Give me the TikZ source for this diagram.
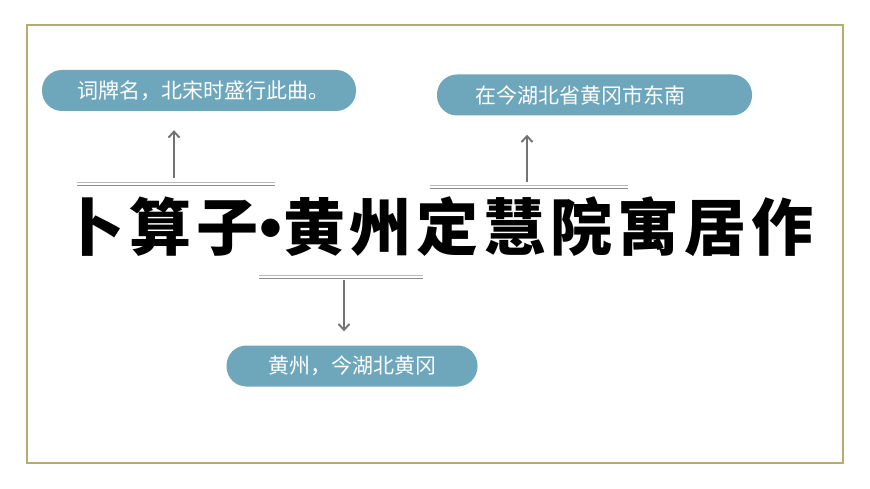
\documentclass[tikz,border=0pt]{standalone}
\usepackage{fontspec}
\setmainfont{Noto Sans CJK SC}
\newfontfamily\cjk{Noto Sans CJK SC}
\newfontfamily\cjktitle{Noto Sans CJK SC}[LetterSpace=8,BoldFont={Noto Sans CJK SC Black}]
\newfontfamily\dotfont{DejaVu Sans}
\usetikzlibrary{arrows.meta}
\definecolor{pillc}{RGB}{110,167,187}
\definecolor{framec}{RGB}{181,172,110}
\definecolor{arrc}{RGB}{115,115,115}
\definecolor{lineA}{RGB}{185,185,185}
\definecolor{lineB}{RGB}{140,140,140}
\begin{document}
\begin{tikzpicture}[x=1pt,y=-1pt,
  pillbox/.style={fill=pillc, rounded corners=20pt, minimum height=41pt, text=white,
    font=\cjk\fontsize{21}{24}\selectfont, inner sep=0pt},
  arrowline/.style={draw=arrc, line width=1.9pt, -{Straight Barb[length=6pt,width=11pt]}},
  ulineA/.style={draw=lineA, line width=1pt},
  ulineB/.style={draw=lineB, line width=1pt}]
\fill[white] (0,0) rectangle (870,489);
\useasboundingbox (0,0) rectangle (870,489);
\draw[framec, line width=1.3pt] (27,25) rectangle (843,463);
% pills
\node[pillbox, minimum width=314pt] (p1) at (199,90.5) {\kern8pt词牌名，北宋时盛行此曲。};
\node[pillbox, minimum width=315pt] (p2) at (594.5,95) {在今湖北省黄冈市东南\kern28pt};
\node[pillbox, minimum width=251pt] (p3) at (352,366) {黄州，今湖北黄冈};
% title
\node[font=\cjktitle\bfseries\fontsize{62}{70}\selectfont, inner sep=0pt] (title) at (438,227)
  {卜算子\makebox[25pt][c]{\dotfont\fontsize{24}{24}\selectfont\raisebox{16pt}{●}}黄州定慧院寓居作};
% underlines
\coordinate (u1a) at (77,183);
\coordinate (u1b) at (275,183);
\coordinate (u1c) at (77,185.8);
\coordinate (u1d) at (275,185.8);
\coordinate (u2a) at (430,185.5);
\coordinate (u2b) at (628,185.5);
\coordinate (u2c) at (430,188.3);
\coordinate (u2d) at (628,188.3);
\coordinate (u3a) at (259,275.5);
\coordinate (u3b) at (423,275.5);
\coordinate (u3c) at (259,278.3);
\coordinate (u3d) at (423,278.3);
\draw[ulineA] (u1a) -- (u1b);
\draw[ulineB] (u1c) -- (u1d);
\draw[ulineA] (u2a) -- (u2b);
\draw[ulineB] (u2c) -- (u2d);
\draw[ulineA] (u3a) -- (u3b);
\draw[ulineB] (u3c) -- (u3d);
% arrows
\coordinate (a1) at (174,178);
\coordinate (a2) at (527,182);
\coordinate (a3) at (344,280);
\draw[arrowline, shorten >=19pt] (a1) -- (a1 |- p1.south);
\draw[arrowline, shorten >=19pt] (a2) -- (a2 |- p2.south);
\draw[arrowline, shorten >=14pt] (a3) -- (a3 |- p3.north);
\end{tikzpicture}
\end{document}
